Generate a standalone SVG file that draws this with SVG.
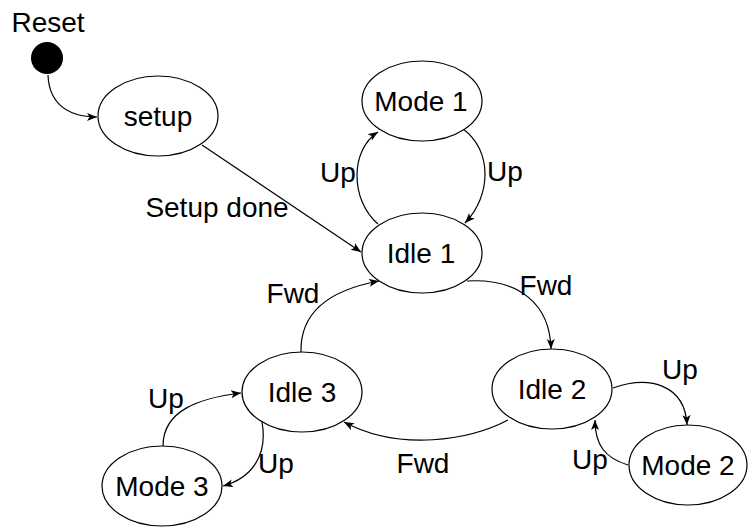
<svg xmlns="http://www.w3.org/2000/svg" width="749" height="527" viewBox="0 0 749 527">
<style>
text{font-family:"Liberation Sans",Arial,sans-serif;font-size:28px;fill:#000;text-anchor:middle}
.st{fill:#fff;stroke:#000;stroke-width:1.2}
.c{fill:none;stroke:#000;stroke-width:1.2;marker-end:url(#a)}
</style>
<defs>
<marker id="a" markerUnits="userSpaceOnUse" markerWidth="12" markerHeight="10" refX="10" refY="4" orient="auto">
<path d="M0,0 L10,4 L0,8 L2.5,4 Z" fill="#000"/>
</marker>
</defs>
<g id="connectors">
<path class="c" d="M48,75 C49,102 66,117 97,117"/>
<path class="c" d="M202,145 L361,252"/>
<path class="c" d="M378,224 C350,200 350,150 378,132"/>
<path class="c" d="M463,129 C492,150 492,195 465,223"/>
<path class="c" d="M467,281 C520,278 550,305 551,349"/>
<path class="c" d="M508,420 C470,440 400,452 344,422"/>
<path class="c" d="M301,352 C300,312 330,290 379,281"/>
<path class="c" d="M163,446 C163,410 200,398 241,393"/>
<path class="c" d="M262,422 C268,455 252,478 223,486"/>
<path class="c" d="M613,388 C650,375 685,385 687,425"/>
<path class="c" d="M628,465 C605,458 595,445 595,420"/>
<text x="217" y="217">Setup done</text>
<text x="338" y="182">Up</text>
<text x="505" y="181">Up</text>
<text x="546" y="295">Fwd</text>
<text x="423" y="473">Fwd</text>
<text x="293" y="303">Fwd</text>
<text x="166" y="408">Up</text>
<text x="276" y="473">Up</text>
<text x="680" y="379">Up</text>
<text x="590" y="469">Up</text>
</g>
<g id="reset">
<circle cx="47" cy="58" r="16" fill="#000"/>
<text x="48" y="32">Reset</text>
</g>
<g id="setup"><ellipse class="st" cx="158" cy="116" rx="60" ry="40"/><text x="158" y="126">setup</text></g>
<g id="mode1"><ellipse class="st" cx="422" cy="101" rx="60" ry="40"/><text x="421" y="111">Mode 1</text></g>
<g id="idle1"><ellipse class="st" cx="422" cy="253" rx="60" ry="40"/><text x="421" y="263">Idle 1</text></g>
<g id="idle2"><ellipse class="st" cx="552" cy="389" rx="60" ry="40"/><text x="552" y="399">Idle 2</text></g>
<g id="idle3"><ellipse class="st" cx="302" cy="392" rx="60" ry="40"/><text x="302" y="402">Idle 3</text></g>
<g id="mode3"><ellipse class="st" cx="162" cy="486" rx="60" ry="40"/><text x="162" y="496">Mode 3</text></g>
<g id="mode2"><ellipse class="st" cx="688" cy="465" rx="59" ry="40"/><text x="688" y="475">Mode 2</text></g>
</svg>
